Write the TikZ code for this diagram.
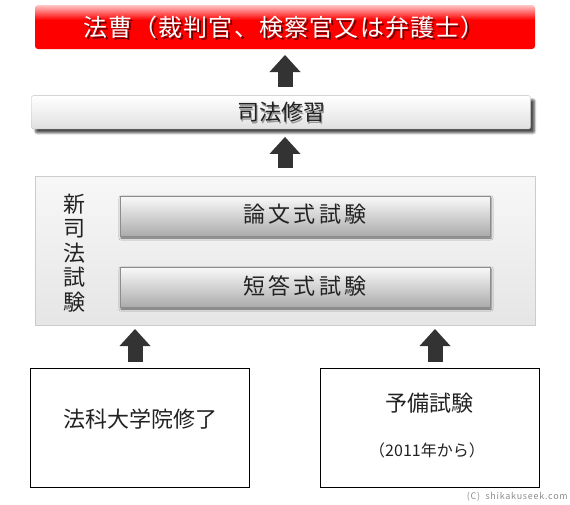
\documentclass[tikz,border=0pt]{standalone}
\usepackage{fontspec}
\setmainfont{Noto Sans CJK JP}
\usetikzlibrary{arrows.meta,shadows.blur}
\definecolor{arrowgray}{HTML}{333333}
\definecolor{txt}{HTML}{222222}
\pgfdeclareverticalshading{redbar}{100bp}{color(0bp)=(red); color(25bp)=(red); color(58bp)=(red); color(75bp)=(red!22!white); color(100bp)=(red!22!white)}
\pgfdeclareverticalshading{whitebar}{100bp}{color(0bp)=(black!12); color(25bp)=(black!12); color(75bp)=(white); color(100bp)=(white)}
\pgfdeclareverticalshading{graybar}{100bp}{color(0bp)=(black!33); color(25bp)=(black!33); color(70bp)=(black!5); color(75bp)=(black!3); color(100bp)=(black!3)}
\pgfdeclareverticalshading{panel}{100bp}{color(0bp)=(black!10); color(25bp)=(black!10); color(75bp)=(black!3); color(100bp)=(black!3)}
\tikzset{
  box/.style={inner sep=0pt, outer sep=0pt},
  blockarrow/.style={draw=arrowgray, line width=15pt,
    -{Triangle[width=31pt,length=17pt,line width=0pt]}},
  jp/.style={text=txt, inner sep=0pt},
}
\begin{document}
\begin{tikzpicture}[x=1pt,y=-1pt]
\useasboundingbox (0,0) rectangle (570,504);
% title
\node[box, shading=redbar, rounded corners=3pt, minimum width=500pt, minimum height=44pt] (title) at (285,27) {};
\node[jp, text=black, opacity=0.55] at (286,29.5) {\fontsize{24}{24}\selectfont\addfontfeature{LetterSpace=5}法曹（裁判官、検察官又は弁護士）};
\node[jp, text=white] (titletxt) at (284,27) {\fontsize{24}{24}\selectfont\addfontfeature{LetterSpace=5}法曹（裁判官、検察官又は弁護士）};
% training
\node[box, shading=whitebar, draw=black!25, rounded corners=2pt, minimum width=499pt, minimum height=33.3pt,
  blur shadow={shadow xshift=4pt, shadow yshift=-4pt, shadow opacity=70, shadow blur steps=6}] (train) at (281,112.3) {};
\node[jp, text=black!40] at (282.5,114) {\fontsize{22}{22}\selectfont 司法修習};
\node[jp] (traintxt) at (281,112) {\fontsize{22}{22}\selectfont 司法修習};
% exam panel
\node[box, shading=panel, draw=black!20, minimum width=499.7pt, minimum height=149pt] (exam) at (284.9,250.5) {};
\node[jp, align=center, font=\fontsize{22}{24.4}\selectfont] (examlabel) at (74,253) {新\\司\\法\\試\\験};
\node[box, fill=black!60, minimum width=370pt, minimum height=40pt, blur shadow={shadow xshift=1pt, shadow yshift=-2pt, shadow opacity=60, shadow blur steps=3}] (ronbun) at (305,216) {};
\node[box, shading=graybar, draw=black!45, minimum width=370pt, minimum height=40pt] at (305,216) {};
\node[jp] (ronbuntxt) at (305,214) {\fontsize{22}{22}\selectfont\addfontfeature{LetterSpace=14}論文式試験};
\node[box, fill=black!60, minimum width=370pt, minimum height=40pt, blur shadow={shadow xshift=1pt, shadow yshift=-2pt, shadow opacity=60, shadow blur steps=3}] (tanto) at (305,287) {};
\node[box, shading=graybar, draw=black!45, minimum width=370pt, minimum height=40pt] at (305,287) {};
\node[jp] (tantotxt) at (305,286) {\fontsize{22}{22}\selectfont\addfontfeature{LetterSpace=14}短答式試験};
% lower boxes
\node[box, draw=black, line width=1.2pt, minimum width=218.6pt, minimum height=119pt] (bl) at (140,427.8) {};
\node[jp] (bltxt) at (140,419) {\fontsize{22}{22}\selectfont 法科大学院修了};
\node[box, draw=black, line width=1.2pt, minimum width=218.6pt, minimum height=119pt] (br) at (430,427.8) {};
\node[jp] (brtxt) at (429,403) {\fontsize{22}{22}\selectfont 予備試験};
\node[jp] (brsub) at (427,450) {\fontsize{16}{16}\selectfont （2011年から）};
% copyright
\node[jp, text=black!45, anchor=east] (copy) at (568,497) {\fontsize{9}{9}\selectfont\addfontfeature{LetterSpace=8}(C)\ \ shikakuseek.com};
% arrows
\draw[blockarrow, shorten <=8.7pt, shorten >=6pt] ([xshift=4pt]train.north) -- ([xshift=4pt]train.north |- title.south);
\draw[blockarrow, shorten <=8pt, shorten >=8pt] ([xshift=4pt]train.north |- exam.north) -- ([xshift=4pt]train.south);
\draw[blockarrow, shorten <=6pt, shorten >=4pt] ([xshift=-5pt]bl.north) -- ([xshift=-5pt]bl.north |- exam.south);
\draw[blockarrow, shorten <=6pt, shorten >=4pt] ([xshift=5pt]br.north) -- ([xshift=5pt]br.north |- exam.south);
\end{tikzpicture}
\end{document}
